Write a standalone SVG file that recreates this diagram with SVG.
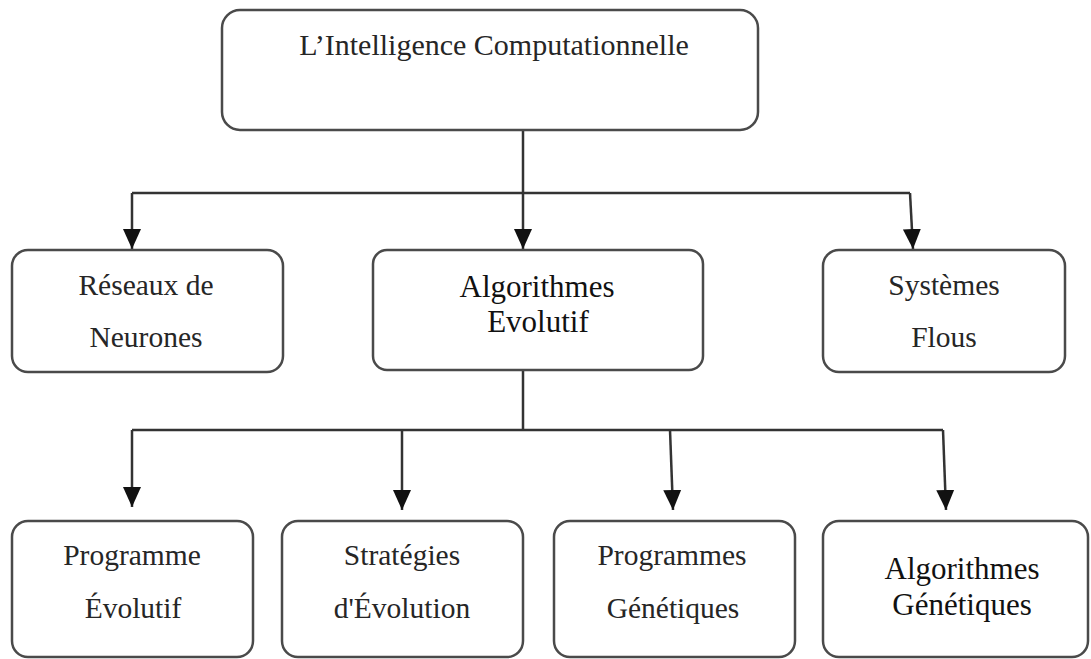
<svg xmlns="http://www.w3.org/2000/svg" width="1091" height="659" viewBox="0 0 1091 659">
  <style>
    .box { fill: #ffffff; stroke: #4a4a4a; stroke-width: 2.5; }
    .t { font-family: "Liberation Serif", "Times New Roman", serif; font-size: 29.5px; fill: #262626; text-anchor: middle; }
    .tb { font-family: "Liberation Serif", "Times New Roman", serif; font-size: 31px; fill: #111111; text-anchor: middle; }
    .conn { fill: none; stroke: #333333; stroke-width: 2.5; }
  </style>
  <defs>
    <marker id="arrow" markerUnits="userSpaceOnUse" markerWidth="20" markerHeight="20" viewBox="0 0 20 20" refX="20" refY="10" orient="auto">
      <path d="M0,1 L20,10 L0,19 Z" fill="#111111"/>
    </marker>
  </defs>
  <rect width="1091" height="659" fill="#ffffff"/>

  <g id="connectors">
    <path class="conn" d="M523,130 V193"/>
    <path class="conn" d="M132,193 H910"/>
    <path class="conn" d="M132,193 V249" marker-end="url(#arrow)"/>
    <path class="conn" d="M523,193 V249" marker-end="url(#arrow)"/>
    <path class="conn" d="M910,193 L913,249" marker-end="url(#arrow)"/>
    <path class="conn" d="M523,370 V430"/>
    <path class="conn" d="M132,430 H943"/>
    <path class="conn" d="M132,430 V507" marker-end="url(#arrow)"/>
    <path class="conn" d="M402,430 V510" marker-end="url(#arrow)"/>
    <path class="conn" d="M670,430 L673,510" marker-end="url(#arrow)"/>
    <path class="conn" d="M943,430 L946,510" marker-end="url(#arrow)"/>
  </g>

  <g id="node-ci">
    <rect class="box" x="222" y="10" width="536" height="120" rx="18"/>
    <text class="t" x="494" y="55" style="font-size:30px">L’Intelligence Computationnelle</text>
  </g>
  <g id="node-reseaux">
    <rect class="box" x="12" y="250" width="271" height="122" rx="16"/>
    <text class="t" x="146" y="295">Réseaux de</text>
    <text class="t" x="146" y="347">Neurones</text>
  </g>
  <g id="node-algo-evol">
    <rect class="box" x="373" y="250" width="330" height="120" rx="14"/>
    <text class="tb" x="537" y="297">Algorithmes</text>
    <text class="tb" x="538" y="332">Evolutif</text>
  </g>
  <g id="node-systemes">
    <rect class="box" x="823" y="250" width="242" height="122" rx="16"/>
    <text class="t" x="944" y="295">Systèmes</text>
    <text class="t" x="944" y="347">Flous</text>
  </g>
  <g id="node-prog-evol">
    <rect class="box" x="12" y="521" width="241" height="136" rx="16"/>
    <text class="t" x="132" y="565">Programme</text>
    <text class="t" x="133" y="618">Évolutif</text>
  </g>
  <g id="node-strategies">
    <rect class="box" x="282" y="521" width="241" height="136" rx="16"/>
    <text class="t" x="402" y="565">Stratégies</text>
    <text class="t" x="402" y="618">d'Évolution</text>
  </g>
  <g id="node-prog-gen">
    <rect class="box" x="554" y="521" width="241" height="136" rx="16"/>
    <text class="t" x="672" y="565">Programmes</text>
    <text class="t" x="673" y="618">Génétiques</text>
  </g>
  <g id="node-algo-gen">
    <rect class="box" x="823" y="521" width="265" height="136" rx="16"/>
    <text class="tb" x="962" y="579">Algorithmes</text>
    <text class="tb" x="962" y="615">Génétiques</text>
  </g>
</svg>
